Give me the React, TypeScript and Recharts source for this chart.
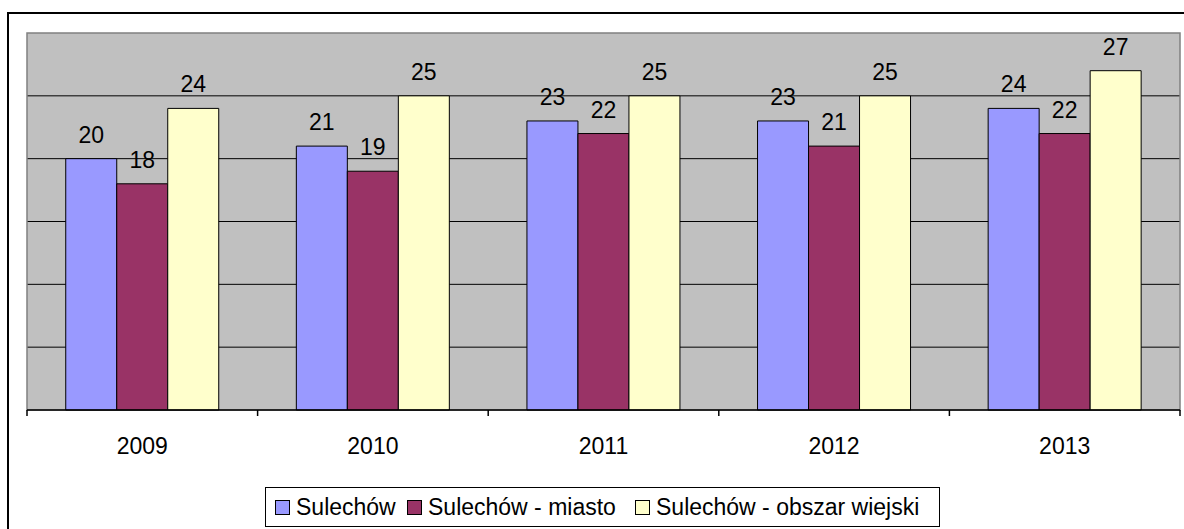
import React from 'react';
import {
  BarChart,
  Bar,
  XAxis,
  YAxis,
  CartesianGrid,
  Legend,
  LabelList,
  ReferenceArea,
} from 'recharts';

const years = ['2009', '2010', '2011', '2012', '2013'];
const sulechow = [20, 21, 23, 23, 24];
const miasto = [18, 19, 22, 21, 22];
const wiejski = [24, 25, 25, 25, 27];
const yTicks = [0, 5, 10, 15, 20, 25, 30];

const series = [
  { key: 'sulechow', name: 'Sulechów', color: '#9999FF' },
  { key: 'miasto', name: 'Sulechów - miasto', color: '#993366' },
  { key: 'wiejski', name: 'Sulechów - obszar wiejski', color: '#FFFFCC' },
];

const data = years.map((year, i) => ({
  year,
  sulechow: sulechow[i],
  miasto: miasto[i],
  wiejski: wiejski[i],
}));

const FONT = '"Liberation Sans", Arial, sans-serif';
const W = 1184;
const H = 529;
const M = { top: 33, right: 4, left: 27, bottom: 0 };
const BAND = (W - M.left - M.right) / years.length;
// left edge of each legend entry inside the legend box
const legendX = [10, 142, 370];

const YearTick = (props: any) => {
  const { x, y, payload, index } = props;
  const half = payload && payload.offset ? payload.offset : BAND / 2;
  return (
    <g>
      <line x1={x - half} x2={x - half} y1={y} y2={y + 6} stroke="#000" strokeWidth={1.5} />
      {index === years.length - 1 && (
        <line x1={x + half} x2={x + half} y1={y} y2={y + 6} stroke="#000" strokeWidth={1.5} />
      )}
      <text x={x} y={y + 44} textAnchor="middle" fontSize={23} fontFamily={FONT} fill="#000">
        {payload.value}
      </text>
    </g>
  );
};

const LegendBox = () => (
  <div
    style={{
      position: 'relative',
      boxSizing: 'border-box',
      width: 675,
      height: 40,
      border: '1px solid #000',
      background: '#fff',
      fontFamily: FONT,
      fontSize: 23,
      color: '#000',
      whiteSpace: 'nowrap',
    }}
  >
    {series.map((s, i) => (
      <span
        key={s.key}
        style={{
          position: 'absolute',
          left: legendX[i] - 1,
          top: 0,
          height: 38,
          display: 'flex',
          alignItems: 'center',
        }}
      >
        <span
          style={{
            boxSizing: 'border-box',
            width: 15,
            height: 15,
            background: s.color,
            border: '1.5px solid #000',
            marginRight: 6,
          }}
        />
        {s.name}
      </span>
    ))}
  </div>
);

export default function App() {
  return (
    <div style={{ position: 'absolute', left: 0, top: 0, width: W, height: H, overflow: 'hidden', background: '#fff' }}>
      <div
        style={{
          position: 'absolute',
          left: 7,
          top: 12,
          width: W,
          height: H,
          borderLeft: '2px solid #000',
          borderTop: '2px solid #000',
        }}
      />
      <BarChart
        width={W}
        height={H}
        data={data}
        margin={M}
        barCategoryGap="16.8%"
        barGap={0}
        style={{ position: 'absolute', left: 0, top: 0 }}
      >
        <CartesianGrid
          vertical={false}
          horizontalValues={[5, 10, 15, 20, 25]}
          stroke="#000"
          strokeWidth={1}
          fill="#C0C0C0"
          fillOpacity={1}
        />
        <ReferenceArea y1={0} y2={30} fill="none" stroke="#808080" strokeWidth={1.5} />
        <XAxis
          dataKey="year"
          height={119}
          tickLine={false}
          tickSize={0}
          tickMargin={0}
          axisLine={{ stroke: '#000', strokeWidth: 1.5 }}
          tick={<YearTick />}
          interval={0}
        />
        <YAxis hide width={0} domain={[0, 30]} ticks={yTicks} />
        <Legend
          layout="horizontal"
          verticalAlign="middle"
          align="center"
          content={<LegendBox />}
          wrapperStyle={{ top: 487, left: 265, width: 675, height: 40 }}
        />
        {series.map((s) => (
          <Bar
            key={s.key}
            dataKey={s.key}
            name={s.name}
            fill={s.color}
            stroke="#000"
            strokeWidth={1}
            isAnimationActive={false}
          >
            <LabelList
              dataKey={s.key}
              position="top"
              offset={16}
              fontSize={23}
              fontFamily={FONT}
              fill="#000"
            />
          </Bar>
        ))}
      </BarChart>
    </div>
  );
}
